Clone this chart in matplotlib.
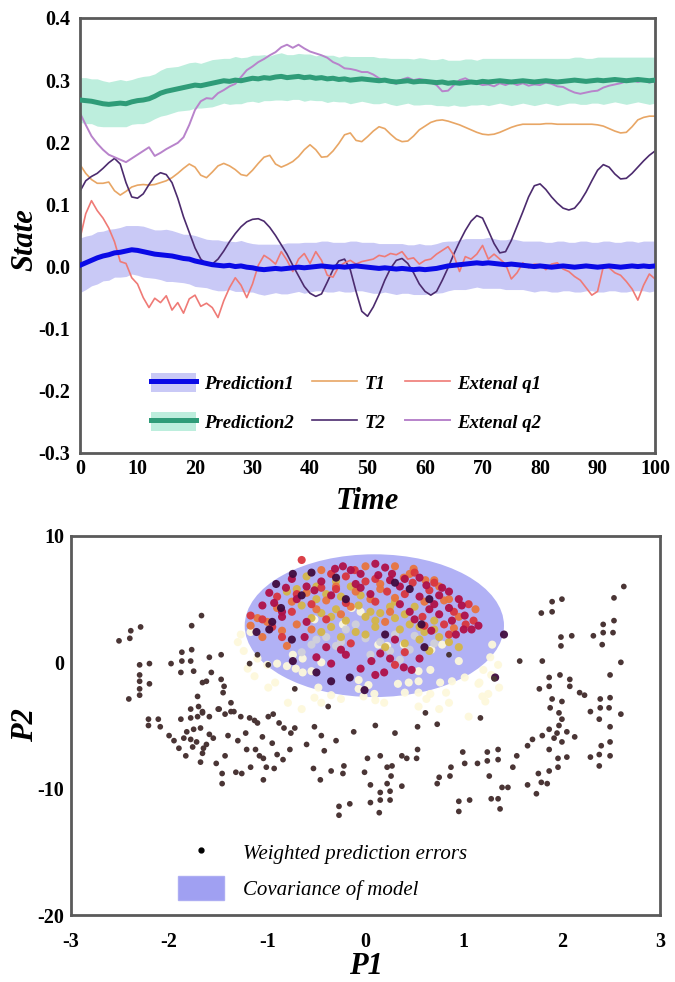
import numpy as np
import matplotlib
matplotlib.use("Agg")
import matplotlib.pyplot as plt
from matplotlib.patches import Ellipse, Patch
from matplotlib.lines import Line2D
from matplotlib.colors import LinearSegmentedColormap

plt.rcParams['font.family'] = ['Liberation Serif', 'DejaVu Serif']
plt.rcParams['axes.unicode_minus'] = False

# ---------------- time series (top panel) ----------------
time = np.arange(0, 101)

pred1 = [0.002, 0.006, 0.010, 0.014, 0.017, 0.019, 0.022, 0.023, 0.025, 0.027, 0.026,
         0.024, 0.022, 0.020, 0.019, 0.018, 0.017, 0.015, 0.013, 0.012, 0.009,
         0.007, 0.005, 0.003, 0.002, 0.001, 0.002, 0.000, 0.001, -0.001, -0.002,
         -0.004, -0.005, -0.004, -0.003, -0.004, -0.003, -0.002, -0.001, -0.002, -0.001,
         0.000, 0.001, 0.000, -0.001, 0.000, -0.001, 0.000, 0.001, 0.000, -0.001,
         -0.002, -0.003, -0.002, -0.003, -0.004, -0.003, -0.004, -0.005, -0.004, -0.005,
         -0.004, -0.003, -0.001, 0.001, 0.002, 0.003, 0.004, 0.005, 0.006, 0.005,
         0.006, 0.005, 0.004, 0.003, 0.004, 0.003, 0.002, 0.001, 0.000, 0.001,
         0.000, -0.001, 0.000, 0.001, 0.000, -0.001, 0.000, 0.001, 0.000, -0.001,
         0.000, 0.001, 0.000, -0.001, 0.000, 0.001, 0.000, 0.001, 0.000, 0.001]
pred1_sd = [0.044, 0.043, 0.041, 0.042, 0.040, 0.041, 0.039, 0.040, 0.041, 0.039, 0.040,
            0.041, 0.040, 0.039, 0.040, 0.042, 0.041, 0.040, 0.039, 0.040, 0.041,
            0.040, 0.039, 0.040, 0.041, 0.040, 0.039, 0.040, 0.041, 0.040, 0.039,
            0.040, 0.041, 0.040, 0.039, 0.040, 0.041, 0.040, 0.039, 0.041, 0.040,
            0.039, 0.040, 0.041, 0.040, 0.039, 0.040, 0.041, 0.040, 0.039, 0.040,
            0.041, 0.040, 0.039, 0.040, 0.041, 0.040, 0.039, 0.040, 0.041, 0.040,
            0.039, 0.040, 0.041, 0.040, 0.039, 0.040, 0.041, 0.040, 0.039, 0.040,
            0.041, 0.040, 0.039, 0.040, 0.041, 0.040, 0.039, 0.040, 0.041, 0.040,
            0.039, 0.040, 0.041, 0.040, 0.039, 0.040, 0.041, 0.040, 0.039, 0.040,
            0.041, 0.040, 0.039, 0.040, 0.041, 0.040, 0.039, 0.040, 0.041, 0.040]

pred2 = [0.268, 0.267, 0.266, 0.264, 0.262, 0.261, 0.262, 0.263, 0.262, 0.265, 0.267,
         0.268, 0.270, 0.274, 0.279, 0.282, 0.284, 0.286, 0.288, 0.290, 0.292,
         0.291, 0.293, 0.295, 0.297, 0.299, 0.298, 0.300, 0.299, 0.301, 0.303,
         0.302, 0.304, 0.303, 0.305, 0.306, 0.304, 0.305, 0.306, 0.304, 0.305,
         0.303, 0.304, 0.302, 0.303, 0.301, 0.302, 0.300, 0.301, 0.302, 0.301,
         0.300, 0.299, 0.300, 0.298, 0.297, 0.298, 0.299, 0.297, 0.298, 0.298,
         0.297, 0.296, 0.297, 0.295, 0.296, 0.295, 0.296, 0.297, 0.296, 0.298,
         0.297, 0.298, 0.299, 0.298, 0.297, 0.298, 0.299, 0.298, 0.297, 0.298,
         0.299, 0.298, 0.297, 0.298, 0.299, 0.300, 0.299, 0.298, 0.299, 0.300,
         0.299, 0.300, 0.301, 0.300, 0.299, 0.300, 0.301, 0.300, 0.299, 0.300]
pred2_sd = [0.036, 0.037, 0.036, 0.038, 0.037, 0.036, 0.037, 0.038, 0.037, 0.036, 0.037,
            0.038, 0.037, 0.036, 0.037, 0.038, 0.037, 0.036, 0.037, 0.038, 0.037,
            0.036, 0.037, 0.038, 0.037, 0.036, 0.037, 0.038, 0.037, 0.036, 0.037,
            0.038, 0.037, 0.036, 0.037, 0.038, 0.037, 0.036, 0.037, 0.038, 0.037,
            0.036, 0.037, 0.038, 0.037, 0.036, 0.037, 0.038, 0.037, 0.036, 0.037,
            0.038, 0.037, 0.036, 0.037, 0.038, 0.037, 0.036, 0.037, 0.038, 0.037,
            0.036, 0.037, 0.038, 0.037, 0.036, 0.037, 0.038, 0.037, 0.036, 0.037,
            0.038, 0.037, 0.036, 0.037, 0.038, 0.037, 0.036, 0.037, 0.038, 0.037,
            0.036, 0.037, 0.038, 0.037, 0.036, 0.037, 0.038, 0.037, 0.036, 0.037,
            0.038, 0.037, 0.036, 0.037, 0.038, 0.037, 0.036, 0.037, 0.038, 0.037]

t1 = [0.164, 0.150, 0.140, 0.134, 0.134, 0.136, 0.122, 0.115, 0.121, 0.128, 0.131,
      0.132, 0.131, 0.132, 0.135, 0.138, 0.143, 0.150, 0.158, 0.165, 0.160,
      0.147, 0.143, 0.152, 0.162, 0.166, 0.162, 0.156, 0.148, 0.146, 0.155,
      0.166, 0.176, 0.179, 0.165, 0.160, 0.164, 0.169, 0.177, 0.188, 0.196,
      0.188, 0.176, 0.177, 0.186, 0.198, 0.212, 0.215, 0.203, 0.201, 0.209,
      0.218, 0.225, 0.222, 0.213, 0.205, 0.201, 0.202, 0.210, 0.220, 0.226,
      0.232, 0.235, 0.236, 0.234, 0.231, 0.228, 0.224, 0.220, 0.216, 0.213,
      0.212, 0.213, 0.216, 0.220, 0.224, 0.227, 0.229, 0.229, 0.229, 0.229,
      0.230, 0.230, 0.229, 0.229, 0.229, 0.229, 0.229, 0.229, 0.229, 0.228,
      0.226, 0.222, 0.218, 0.215, 0.216, 0.225, 0.236, 0.240, 0.242, 0.242]

t2 = [0.121, 0.138, 0.145, 0.150, 0.158, 0.167, 0.174, 0.165, 0.135, 0.112, 0.110,
      0.117, 0.132, 0.145, 0.151, 0.148, 0.135, 0.110, 0.080, 0.055, 0.030,
      0.012, 0.004, 0.004, 0.012, 0.025, 0.040, 0.053, 0.064, 0.072, 0.076,
      0.077, 0.073, 0.063, 0.050, 0.035, 0.020, 0.002, -0.015, -0.032, -0.043,
      -0.048, -0.044, -0.025, -0.005, 0.009, 0.012, -0.005, -0.040, -0.072, -0.080,
      -0.065, -0.045, -0.022, -0.003, 0.010, 0.013, 0.005, -0.010, -0.028, -0.040,
      -0.046, -0.040, -0.022, -0.002, 0.020, 0.040, 0.058, 0.073, 0.082, 0.078,
      0.058, 0.037, 0.022, 0.024, 0.042, 0.065, 0.088, 0.112, 0.130, 0.133,
      0.124, 0.112, 0.102, 0.094, 0.091, 0.094, 0.105, 0.120, 0.138, 0.155,
      0.164, 0.160, 0.149, 0.141, 0.142, 0.150, 0.160, 0.170, 0.179, 0.186]

q1 = [0.045, 0.085, 0.106, 0.090, 0.078, 0.062, 0.040, 0.008, 0.005, -0.018, -0.028,
      -0.050, -0.066, -0.051, -0.058, -0.047, -0.070, -0.058, -0.075, -0.052, -0.046,
      -0.064, -0.059, -0.066, -0.082, -0.055, -0.034, -0.018, -0.030, -0.050, -0.028,
      0.002, 0.018, 0.012, 0.004, 0.024, 0.010, -0.008, 0.012, 0.021, 0.005,
      0.024, 0.010, -0.014, -0.017, 0.000, 0.006, 0.010, 0.004, 0.008, 0.010,
      0.012, 0.018, 0.016, 0.021, 0.019, 0.024, 0.012, 0.014, 0.004, 0.010,
      0.012, 0.020, 0.026, 0.032, 0.018, -0.008, 0.016, 0.012, 0.020, 0.034,
      0.012, 0.020, 0.012, 0.004, -0.020, -0.010, 0.006, -0.002, 0.004, 0.003,
      -0.005, 0.004, 0.006, -0.004, -0.008, -0.016, -0.022, -0.034, -0.046, -0.040,
      0.000, -0.002, -0.010, -0.014, -0.024, -0.036, -0.054, -0.030, -0.012, -0.020]

q2 = [0.247, 0.228, 0.210, 0.198, 0.188, 0.180, 0.176, 0.172, 0.168, 0.174, 0.180,
      0.186, 0.192, 0.178, 0.183, 0.189, 0.194, 0.199, 0.208, 0.228, 0.252,
      0.266, 0.271, 0.270, 0.279, 0.284, 0.290, 0.294, 0.305, 0.316, 0.322,
      0.329, 0.334, 0.340, 0.345, 0.353, 0.357, 0.352, 0.357, 0.351, 0.346,
      0.343, 0.340, 0.336, 0.329, 0.325, 0.319, 0.318, 0.316, 0.313, 0.313,
      0.309, 0.303, 0.300, 0.297, 0.294, 0.301, 0.304, 0.300, 0.302, 0.300,
      0.296, 0.292, 0.282, 0.283, 0.292, 0.300, 0.303, 0.298, 0.295, 0.292,
      0.293, 0.290, 0.295, 0.292, 0.296, 0.292, 0.295, 0.291, 0.293, 0.292,
      0.296, 0.294, 0.290, 0.289, 0.284, 0.280, 0.278, 0.280, 0.282, 0.283,
      0.288, 0.291, 0.293, 0.295, 0.298, 0.300, 0.297, 0.300, 0.296, 0.298]

# ---------------- projection scatter (bottom panel) ----------------
err_p1 = [-2.51, -2.40, -2.39, -2.29, -1.77, -1.67, -1.87, -1.77, -1.98, -1.87, -1.88, -1.78, -1.75,
          -2.30, -2.20, -2.30, -2.30, -2.20, -2.30, -2.41, -2.30,
          -1.59, -1.47, -1.57, -1.66, -1.62, -1.47, -1.44, -1.45, -1.71, -1.70, -1.78, -1.66, -1.50,
          -1.37, -1.34, -1.27,
          -2.21, -2.11, -2.21, -1.88, -1.78, -1.71, -1.66, -1.59, -1.49, -1.43, -1.37, -1.18, -1.13,
          -1.10, -0.99, -0.94, -0.88, -0.83, -0.72, -0.76, -1.75, -1.82, -1.68, -1.59, -2.09,
          -1.18, -1.10, -0.99, -0.72, -0.52, -0.38,
          -1.83, -1.76, -1.68, -1.66, -1.52, -1.43, -1.46, -1.46, -1.32, -1.26, -1.17, -1.21, -1.12,
          -1.08, -1.01, -1.04, -0.93, -0.90, -0.77, -0.84, -1.04,
          -1.95, -1.85, -1.72, -1.62, -1.55, -1.40, -1.30, -1.22, -1.05, -0.95, -1.90, -2.00, -1.78, -1.65,
          -0.27, -0.27, -0.16, 0.05, 0.14, 0.15, 0.25, 0.25, 0.15, 0.05, 0.22, 0.37, 0.26, 0.22, 0.27,
          0.15, 0.02, -0.01, -0.22, -0.23, -0.35, -0.46, -0.53, -0.60, -0.42, 0.37, 0.42, 0.53, 0.52,
          -0.45, -0.30, -0.12, 0.10, 0.30, 0.53, 0.61, 0.73, 1.17, 0.85, 1.31,
          0.73, 0.75, 0.86, 0.87, 0.95, 0.95, 1.06, 0.99, 1.01, 1.14, 1.24, 1.24, 1.35, 1.35, 1.26,
          1.28, 1.37, 1.35, 1.39, 1.45, 1.50, 1.54, 1.65, 1.65, 1.74, 1.79, 1.76, 1.87, 1.85, 1.96,
          1.96, 2.00, 2.05, 1.87,
          2.29, 2.38, 2.49, 2.38, 2.40, 2.49,
          1.90, 2.00, 1.79, 1.90, 2.53, 2.63, 2.53, 2.42, 2.42, 2.32, 2.52, 2.41, 1.99, 2.10, 1.99,
          1.57, 1.80, 2.60, 2.49, 1.87, 1.77, 1.87, 1.98, 2.08, 2.08, 2.18, 2.23, 1.90, 2.00, 1.88,
          1.97, 2.00, 1.97, 1.87, 2.13, 2.39, 2.49, 2.39, 2.48, 2.29, 2.60, 2.38, 2.49,
          1.80, 1.92, 1.70, 2.05, 1.95]
err_p2 = [1.7, 1.9, 2.5, 2.8, 2.9, 3.7, 0.8, 1.0, -0.1, 0.1, -0.8, 0.1, -0.7,
          -0.2, -0.1, -1.0, -1.5, -1.7, -2.1, -2.9, -2.6,
          0.4, 0.6, -0.8, -1.6, -1.5, -1.35, -1.9, -2.4, -2.7, -3.5, -3.7, -3.9, -3.7,
          -3.2, -3.9, -4.3,
          -4.5, -4.5, -5.0, -4.5, -4.4, -4.3, -4.0, -4.3, -3.7, -4.1, -3.9, -4.4, -4.6,
          -4.8, -4.3, -4.1, -4.8, -5.2, -5.2, -5.6, -5.3, -5.5, -5.2, -5.7, -5.1,
          -0.1, 0.6, -0.2, -2.1, -5.1, -3.5,
          -7.4, -6.7, -7.9, -7.2, -8.0, -7.4, -8.8, -9.6, -8.7, -8.8, -8.3, -6.9, -6.9,
          -7.4, -8.3, -9.3, -8.4, -7.3, -6.9, -7.7, -7.6,
          -6.2, -6.0, -6.3, -6.5, -6.0, -5.8, -6.2, -5.6, -5.9, -6.4, -6.8, -5.8, -6.1, -6.8,
          -12.1, -11.4, -11.2, -11.1, -11.9, -10.9, -10.9, -10.2, -10.3, -9.7, -9.6, -9.8, -9.0, -8.3, -8.2,
          -7.4, -7.6, -8.7, -8.2, -8.8, -8.6, -9.3, -8.4, -6.5, -7.0, -7.4, -7.6, -6.9, -7.6,
          -5.8, -6.2, -5.5, -5.0, -5.6, -5.1, -4.0, -4.9, -4.4, 0.6, -1.3,
          -9.6, -9.1, -9.0, -8.3, -11.0, -11.8, -10.9, -7.1, -8.0, -8.0, -7.1, -7.8, -6.9, -7.7, -9.0,
          -10.8, -11.6, -10.8, -9.9, -9.9, -8.3, -7.4, -6.6, -9.7, -10.4, -9.5, -8.8, -8.6, -9.6, -8.3,
          -7.6, -6.3, -7.5, -6.9,
          -7.5, -7.3, -7.4, -8.2, -6.6, -6.3,
          4.8, 5.0, 3.9, 4.0, 5.1, 6.0, 3.3, 3.0, 2.35, 2.1, 2.35, 1.4, 2.0, 2.1, 1.3,
          0.1, 0.1, 0.0, -1.0, -1.2, -2.1, -1.9, -1.0, -1.35, -1.9, -2.4, -2.6, -2.9, -3.1, -3.6,
          -4.0, -4.5, -5.0, -5.3, -5.9, -2.9, -2.8, -3.6, -3.6, -3.9, -4.1, -4.5, -5.1,
          -5.8, -6.0, -6.1, -5.5, -5.6]

# sampled model states grouped by normalised weight (light -> dark)
cream_p1 = [-1.17, -1.30, -1.24, -1.10, -1.00, -1.27, -1.13, -0.99, -0.92, -0.79, -0.65, -0.52, -0.45,
            -0.35, -0.48, -0.25, 0.09, -0.02, 0.54, 0.66, 0.82, 1.01, 1.15, 1.25, 1.36, 1.16, 1.22,
            1.19, 1.05, 0.75, 0.85, 0.54, 0.62, 0.40, 0.19, 0.10, 0.33, 1.28, 1.35, -1.20,
            -0.14, -0.05, -0.52, -0.23, 0.13, 0.22, 0.39, 0.67, 0.78, 1.29, -0.74, -0.64, -0.71, -0.64,
            -0.55, -0.80, -0.07, -0.07, 0.03, 0.54, 0.66, 0.44, 0.54, 0.76, 0.88, 1.20, 1.27, 0.95,
            -0.90, -0.45]
cream_p2 = [2.4, 1.6, 0.9, 0.3, -0.2, 2.2, -1.1, -2.0, -1.6, -3.2, -3.7, -2.8, -3.2,
            -2.6, -2.0, -2.9, -2.5, -2.7, -2.4, -2.5, -2.4, -1.2, -1.7, -2.5, -2.0, -1.6, -3.1,
            -2.7, -4.3, -3.7, -3.2, -3.5, -2.9, -2.4, -3.2, -3.0, -1.7, -1.0, -0.2, -0.5,
            4.3, 4.0, 3.4, 3.0, 1.4, 1.3, 1.4, 1.0, 1.4, 1.4, 0.6, 0.3, -0.5, -0.8,
            -0.7, -0.3, -1.4, -2.1, -1.8, -0.7, -0.6, -1.6, -1.5, -1.6, -1.5, -0.6, 0.4, 0.1,
            -0.1, 0.0]
pale_p1 = [-0.40, -0.25, 0.00, 0.15, -0.55, 0.30, 0.50, -0.10, -0.65, 0.70, -0.20, 0.05, 0.35,
           -0.30, 0.25, 0.45, -0.50]
pale_p2 = [2.0, 1.6, 1.9, 1.6, 1.4, 2.2, 2.1, 3.0, 0.8, 1.5, 2.6, 0.6, 0.2,
           1.3, 0.9, 1.0, 1.8]
mustard_p1 = [-0.07, -0.30, -0.45, -0.20, 0.00, 0.15, 0.30, 0.45, 0.60, 0.75, 0.35, 0.10, -0.10,
              -0.35, -0.55, -0.65, -0.50, -0.30, -0.15, -0.40, 0.25, 0.50, 0.70, 0.55, 0.40, 0.85,
              -0.25, 0.05, -0.60, -0.80, 0.20, 0.65, 0.95,
              -0.50, -0.05, 0.10, 0.40, -0.35, -0.25, 0.55, 0.30, -0.70, 0.00, -0.45, 0.70]
mustard_p2 = [4.5, 4.2, 3.9, 3.3, 3.6, 3.9, 3.5, 3.0, 2.4, 2.0, 2.6, 2.8, 2.4,
              2.8, 3.5, 4.5, 6.0, 6.4, 6.0, 5.4, 4.4, 4.4, 3.3, 1.8, 1.5, 1.6,
              5.2, 4.0, 6.8, 5.6, 1.2, 0.9, 1.2,
              5.0, 5.3, 3.3, 3.8, 3.6, 2.0, 2.8, 4.8, 5.8, 2.2, 2.4, 2.6]
orange_p1 = [-1.17, 0.39, 0.49, 0.61, 0.70, 1.12, -1.00, -0.85, -0.60, -0.40, -0.10, 0.15, 0.30, 0.60,
             0.80, -0.25, -0.55, 0.20, 0.75, -0.70, -0.90, 0.00, 0.30, -0.45, -0.15, 0.95, -1.05, -0.80,
             -0.30, 0.05, 0.45, 0.85, -0.75, -0.50, 0.25, 0.90, -1.10, 0.15]
orange_p2 = [2.9, 6.7, 7.4, 6.5, 6.5, 4.2, 3.2, 2.5, 5.5, 4.9, 5.6, 6.2, 5.1, 4.8,
             4.9, 3.8, 2.6, 3.2, 6.0, 3.0, 4.3, 7.6, 7.6, 7.3, 4.4, 3.6, 2.0, 1.3,
             6.0, 5.0, 7.0, 5.0, 4.8, 4.2, 4.0, 2.7, 3.5, 5.8]
red_p1 = [-0.65, -1.17, -1.05, -0.11, 1.05, 0.85, -0.90, -0.55, -0.30, 0.00, 0.22, 0.48, 0.65, 0.90,
          -0.75, -0.40, 0.58, -0.15, 0.40, -0.95, 0.10, -0.20, 0.50, 0.80, -0.35, 1.10,
          -0.45, -0.70, 0.10, 0.40, 0.70, 1.02, -0.20, 0.60, -0.85, 0.30]
red_p2 = [8.1, 3.7, 3.4, 7.3, 4.6, 2.2, 5.2, 4.6, 5.8, 6.4, 5.6, 6.3, 5.7, 4.0,
          4.0, 3.4, 3.6, 1.5, 0.8, 2.8, 4.8, 6.8, 7.1, 3.0, 7.0, 3.3,
          5.9, 5.4, 6.6, 5.4, 6.3, 3.0, 4.7, 2.9, 2.0, -0.2]
crimson_p1 = [-0.81, -0.93, -0.52, -0.31, -0.23, 0.13, 0.27, 0.78, 0.95, 1.01, 1.15, 1.08, 1.00, 0.67,
              -0.35, 0.06, 0.10, 0.19, 0.25, 0.39, 0.47, -0.70, -0.45, -0.10, 0.05, 0.35, 0.55, 0.70,
              0.85, 0.62, -0.60, -0.85, -0.40, -0.20, 0.30, 0.88, 0.45, -0.05, 0.20, -0.75, -0.98, 0.40,
              0.75, -0.50, 0.15, -0.62, 0.92,
              -0.60, -0.35, -0.05, 0.25, 0.55, 0.85, 0.98, 0.65, 0.35, -0.15, 0.10, -0.85, -1.05, 0.50,
              0.75, -0.25, 0.55, -0.05]
crimson_p2 = [5.9, 4.7, 5.7, 7.4, 7.6, 6.9, 7.0, 5.9, 5.0, 3.7, 2.9, 2.6, 2.6, 2.5,
              -0.1, 0.1, -1.0, -0.8, 0.3, -0.4, -0.6, 5.0, 6.4, 6.2, 5.4, 6.0, 5.2, 4.6,
              4.3, 6.1, 3.2, 3.6, 1.2, 0.6, 1.8, 3.3, 4.0, 7.0, 7.5, 6.6, 5.5, 6.6,
              5.3, 0.4, 0.7, 2.0, 2.2,
              6.0, 5.3, 5.9, 6.5, 6.7, 5.6, 4.5, 4.2, 4.6, 7.3, 7.8, 4.0, 4.5, 3.4,
              3.8, 1.0, 0.3, -0.5]
purple_p1 = [-0.74, -0.55, -0.91, -1.11, -0.98, -0.86, -0.65, 0.57, -0.74, -0.16, -0.35, -0.01, -0.20,
             0.45, -0.75, 0.20, -0.50, 0.60, 1.41, 1.32, -0.30, 0.30, -0.95, 0.65]
purple_p2 = [7.0, 7.1, 6.2, 2.4, 2.6, 4.3, 5.3, 3.0, 0.1, -1.2, -1.5, -2.2, 5.0,
             5.8, 1.8, 2.2, -0.8, 1.2, 2.2, -1.2, 6.7, 6.3, 3.2, 5.0]

weight_groups = [(1.0, cream_p1, cream_p2), (0.88, pale_p1, pale_p2),
                 (0.75, mustard_p1, mustard_p2), (0.6, orange_p1, orange_p2),
                 (0.45, red_p1, red_p2), (0.3, crimson_p1, crimson_p2),
                 (0.05, purple_p1, purple_p2)]

cov_center = (0.09, 2.9)
cov_size = (2.64, 11.3)

# ---------------- figure ----------------
fig = plt.figure(figsize=(6.75, 9.82), dpi=100)
label_font = dict(fontsize=22, fontweight='bold', fontstyle='italic')
spine_col = '#5a5a5a'

ax1 = fig.add_axes([0.1185, 0.5387, 0.852, 0.443])
ax1.fill_between(time, np.array(pred1) - np.array(pred1_sd), np.array(pred1) + np.array(pred1_sd),
                 color='#c9c9f6', lw=0, zorder=1)
ax1.fill_between(time, np.array(pred2) - np.array(pred2_sd), np.array(pred2) + np.array(pred2_sd),
                 color='#bdeedd', lw=0, zorder=1)
ax1.plot(time, t1, color='#e8a665', lw=1.2, zorder=2)
ax1.plot(time, t2, color='#4c2b6e', lw=1.2, zorder=2)
ax1.plot(time, q1, color='#ef7a76', lw=1.2, zorder=2)
ax1.plot(time, q2, color='#b883cb', lw=1.4, zorder=2)
ax1.plot(time, pred1, color='#0a0ae6', lw=3.6, zorder=3)
ax1.plot(time, pred2, color='#2f9c78', lw=3.6, zorder=3)

ax1.set_xlim(0, 100)
ax1.set_ylim(-0.3, 0.4)
ax1.set_xticks(np.arange(0, 101, 10))
ax1.set_yticks(np.arange(-0.3, 0.41, 0.1))
ax1.set_yticklabels(['%.1f' % v for v in np.arange(-0.3, 0.41, 0.1)])
ax1.tick_params(length=0, pad=7)
ax1.tick_params(axis='x', pad=4)
for lab in ax1.get_xticklabels() + ax1.get_yticklabels():
    lab.set_fontsize(14.5)
    lab.set_fontweight('bold')
for sp in ax1.spines.values():
    sp.set_color(spine_col)
    sp.set_linewidth(2)
ax1.set_xlabel('Time', labelpad=6, **label_font)
ax1.set_ylabel('State', **label_font)
ax1.yaxis.set_label_coords(-0.07, 0.49)

h_p1 = (Patch(facecolor='#c9c9f6', edgecolor='none'), Line2D([], [], color='#0a0ae6', lw=3.6))
h_p2 = (Patch(facecolor='#bdeedd', edgecolor='none'), Line2D([], [], color='#2f9c78', lw=3.6))
h_t1 = Line2D([], [], color='#e8a665', lw=1.2)
h_t2 = Line2D([], [], color='#4c2b6e', lw=1.2)
h_q1 = Line2D([], [], color='#ef7a76', lw=1.2)
h_q2 = Line2D([], [], color='#b883cb', lw=1.4)
ax1.legend([h_p1, h_p2, h_t1, h_t2, h_q1, h_q2],
           ['Prediction1', 'Prediction2', 'T1', 'T2', 'Extenal q1', 'Extenal q2'],
           ncol=3, loc='lower left', bbox_to_anchor=(0.095, 0.01), frameon=False,
           prop=dict(family='Liberation Serif', size=13.5, weight='bold', style='italic'),
           handlelength=2.4, handleheight=1.2, columnspacing=1.0, labelspacing=1.0,
           handletextpad=0.4)

ax2 = fig.add_axes([0.105, 0.0682, 0.873, 0.386])
ax2.add_patch(Ellipse(cov_center, cov_size[0], cov_size[1], facecolor='#b1b1f5',
                      edgecolor='none', zorder=1))
cmap = LinearSegmentedColormap.from_list('weights', [
    (0.0, '#2b0a3d'), (0.3, '#b01048'), (0.45, '#d9363e'), (0.6, '#e8743e'),
    (0.75, '#d4b545'), (0.88, '#d0d0da'), (1.0, '#fdf8dc')])
for w, gp1, gp2 in weight_groups:
    ax2.scatter(gp1, gp2, color=cmap(w), s=34, edgecolors='none', alpha=0.95, zorder=2)
ax2.scatter(err_p1, err_p2, color='#4a3535', s=17, edgecolors='none', zorder=3)

ax2.set_xlim(-3, 3)
ax2.set_ylim(-20, 10)
ax2.set_xticks(np.arange(-3, 4, 1))
ax2.set_yticks([-20, -10, 0, 10])
ax2.tick_params(length=0, pad=5)
ax2.tick_params(axis='x', pad=12)
for lab in ax2.get_xticklabels() + ax2.get_yticklabels():
    lab.set_fontsize(14.5)
    lab.set_fontweight('bold')
for sp in ax2.spines.values():
    sp.set_color(spine_col)
    sp.set_linewidth(2)
ax2.set_xlabel('P1', labelpad=0, **label_font)
ax2.set_ylabel('P2', **label_font)
ax2.yaxis.set_label_coords(-0.053, 0.5)

h_err = Line2D([], [], linestyle='none', marker='o', color='black', markersize=3.5)
h_cov = Patch(facecolor='#8f8ff0', edgecolor='#a8a8f2', alpha=0.85)
ax2.legend([h_err, h_cov], ['Weighted prediction errors', 'Covariance of model'],
           loc='lower left', bbox_to_anchor=(0.15, -0.01), frameon=False,
           prop=dict(family='Liberation Serif', size=15, style='italic'),
           handlelength=2.2, handleheight=1.4, labelspacing=0.55, handletextpad=0.9)

fig.savefig('out.png', dpi=100)
